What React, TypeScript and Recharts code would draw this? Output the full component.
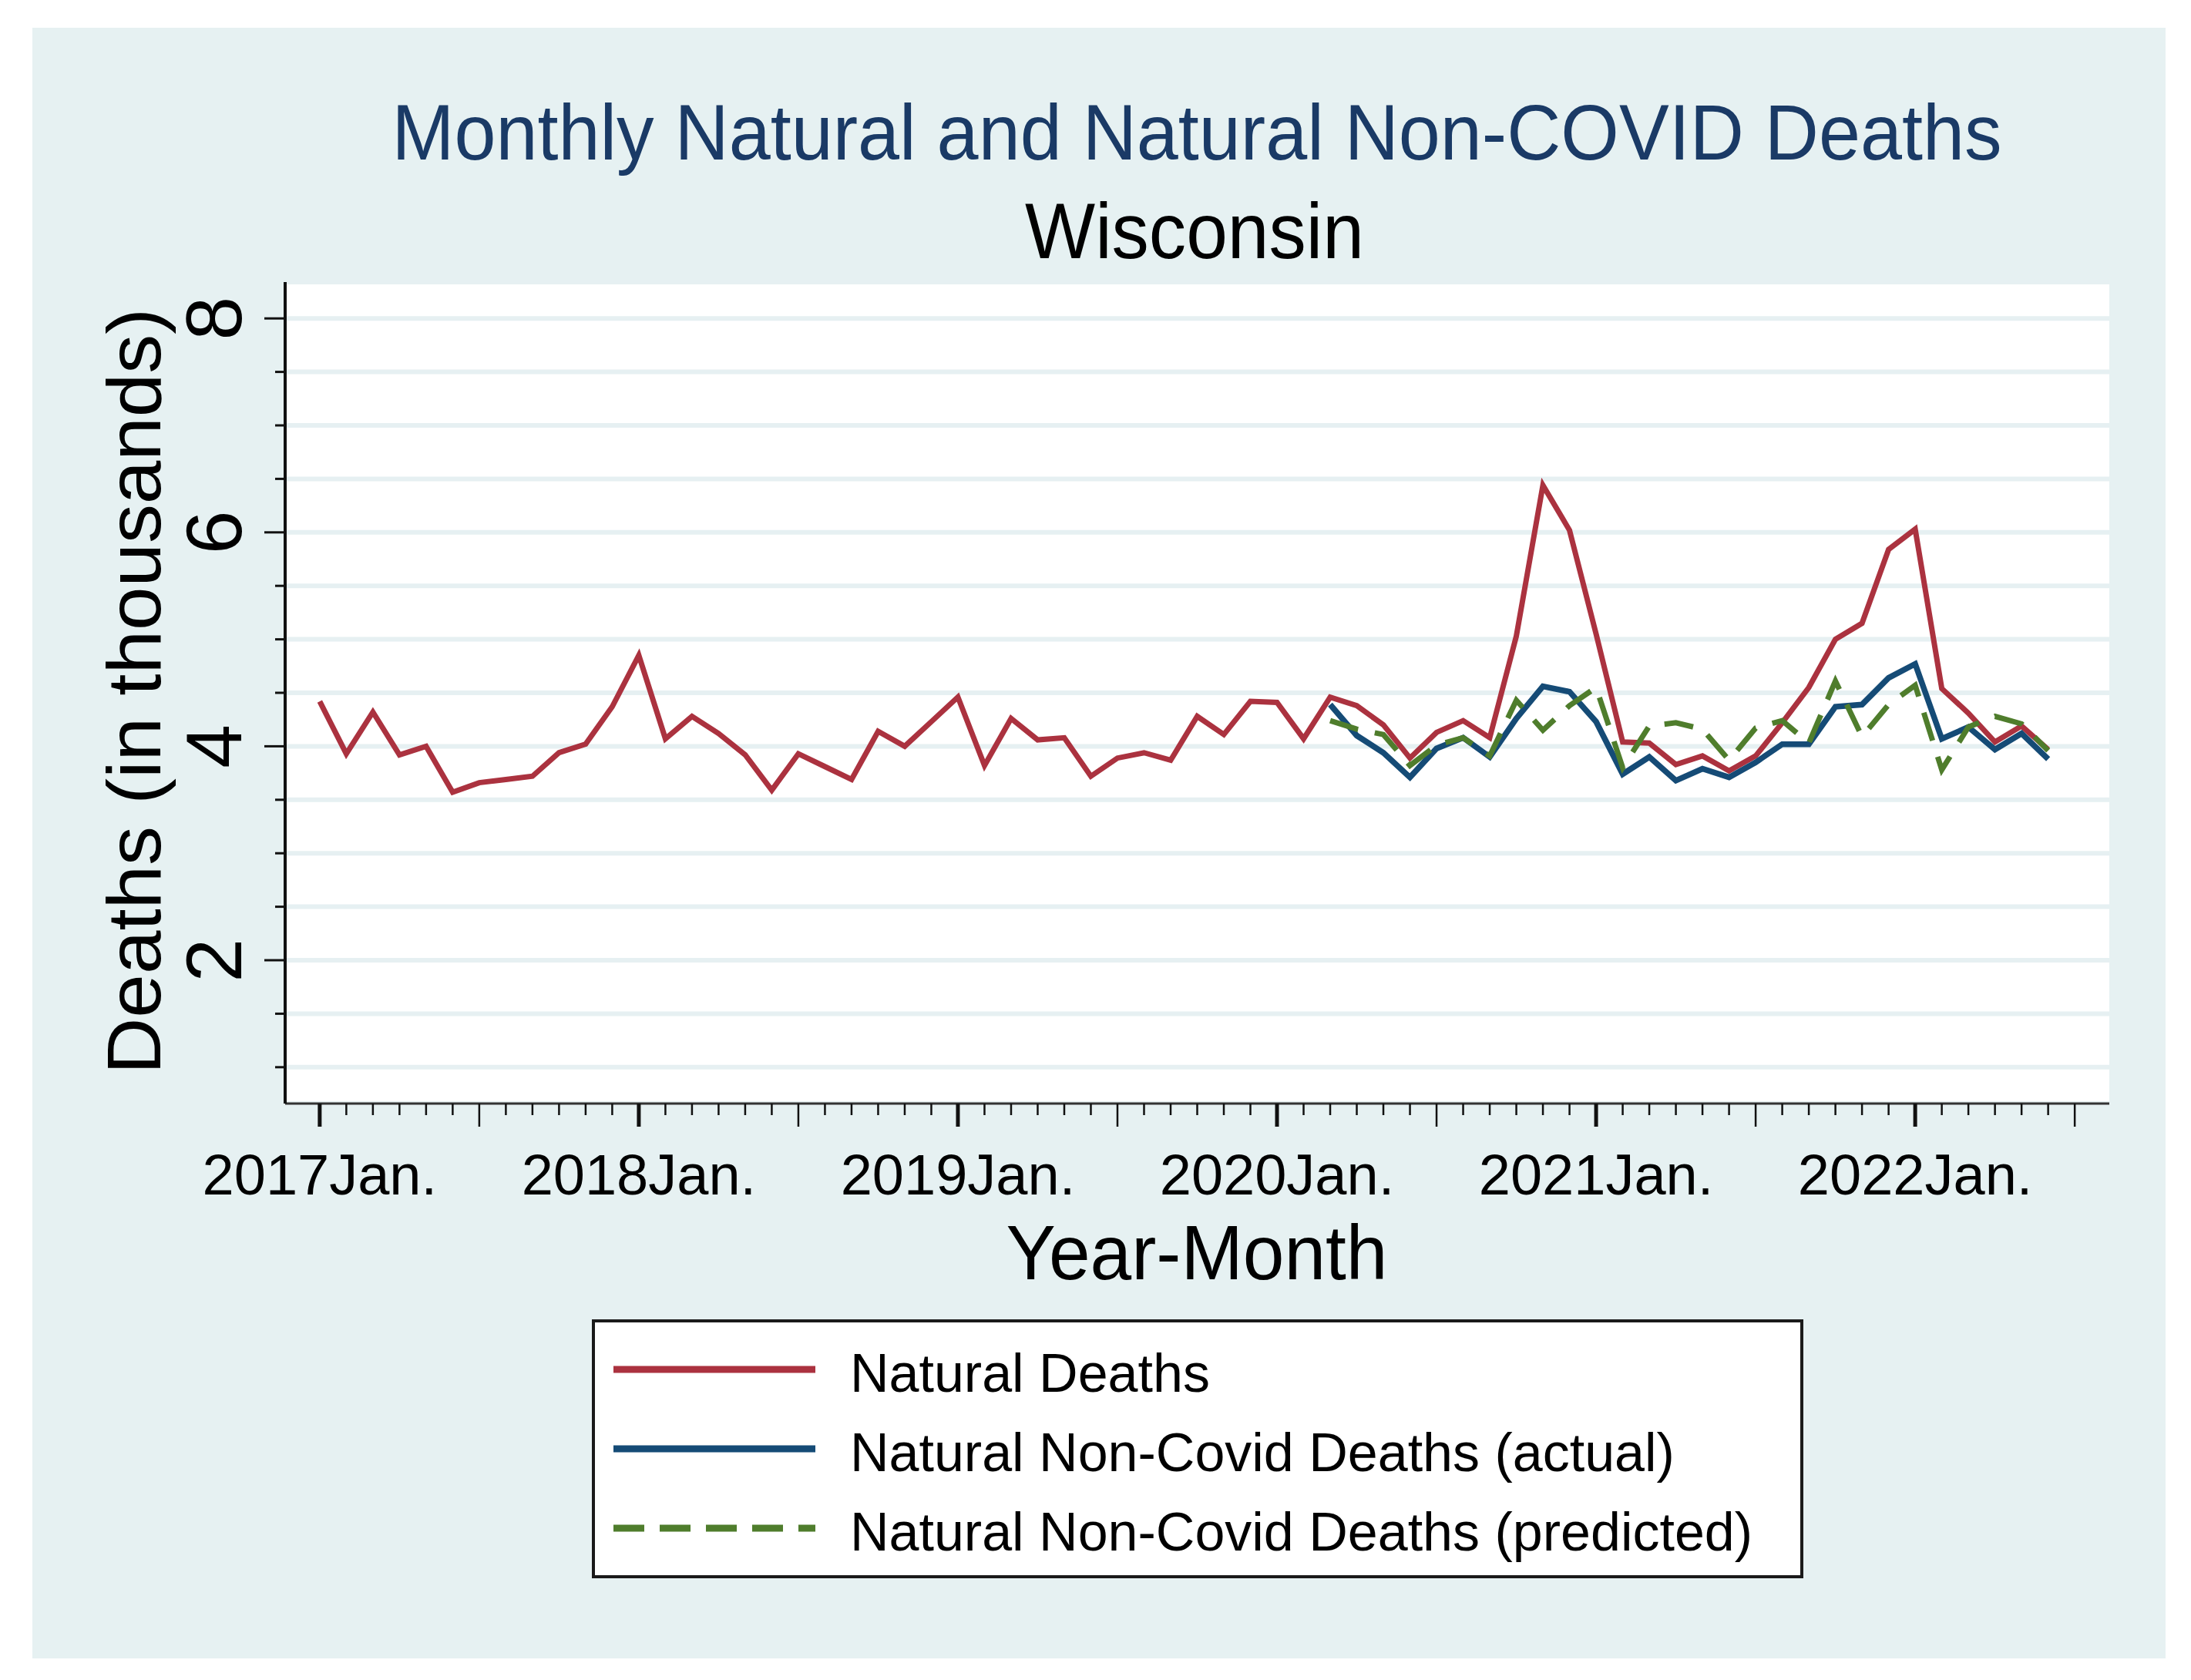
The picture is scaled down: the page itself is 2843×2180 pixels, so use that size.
import React from "react";
import { LineChart, Line, XAxis, YAxis, CartesianGrid, Legend } from "recharts";

// deaths in thousands, one value per month starting 2017 Jan.
const naturalDeaths = [
  4.42, 3.93, 4.32, 3.92, 4.0, 3.57, 3.66, 3.69, 3.72, 3.94, 4.02, 4.37,
  4.85, 4.07, 4.28, 4.12, 3.92, 3.59, 3.93, 3.81, 3.69, 4.14, 4.0, 4.23,
  4.46, 3.82, 4.26, 4.06, 4.08, 3.72, 3.89, 3.94, 3.87, 4.28, 4.11, 4.42,
  4.41, 4.07, 4.46, 4.38, 4.2, 3.89, 4.13, 4.24, 4.08, 5.03, 6.44, 6.02,
  5.05, 4.04, 4.03, 3.83, 3.91, 3.77, 3.91, 4.22, 4.55, 5.0, 5.15, 5.84,
  6.03, 4.54, 4.31, 4.04, 4.19, 3.97
];

// these two start in 2020 Mar.
const predictionStart = 38;
const nonCovidActual = [
  4.39, 4.1, 3.94, 3.71, 3.98, 4.08, 3.9, 4.26, 4.56, 4.51, 4.23, 3.74,
  3.9, 3.68, 3.79, 3.71, 3.85, 4.02, 4.02, 4.37, 4.39, 4.64, 4.77, 4.07,
  4.18, 3.97, 4.12, 3.88
];
const nonCovidPredicted = [
  4.24, 4.16, 4.11, 3.82, 4.01, 4.08, 3.91, 4.43, 4.15, 4.38, 4.55, 3.8,
  4.19, 4.22, 4.16, 3.87, 4.17, 4.24, 4.03, 4.61, 4.09, 4.39, 4.57, 3.78,
  4.18, 4.28, 4.21, 3.96
];

const yearLabels = ["2017Jan.", "2018Jan.", "2019Jan.", "2020Jan.", "2021Jan.", "2022Jan."];
const yLabelTicks = [2, 4, 6, 8];

const FONT = "'Liberation Sans', Arial, Helvetica, sans-serif";

const series = [
  { key: "natural", name: "Natural Deaths", color: "#ab323f", width: 7, dash: undefined },
  { key: "actual", name: "Natural Non-Covid Deaths (actual)", color: "#154b76", width: 7.5, dash: undefined },
  { key: "predicted", name: "Natural Non-Covid Deaths (predicted)", color: "#4f7d2c", width: 7, dash: "38 22" }
];

const data = naturalDeaths.map((v, i) => ({
  month: i,
  natural: v,
  actual: i >= predictionStart ? nonCovidActual[i - predictionStart] : null,
  predicted: i >= predictionStart ? nonCovidPredicted[i - predictionStart] : null
}));

const monthTicks: number[] = [];
for (let m = 0; m <= 66; m++) monthTicks.push(m);
const yTicks: number[] = [];
for (let t = 1; t <= 8; t += 0.5) yTicks.push(t);

const XTick = ({ x, y, payload }: any) => {
  const m = payload.value;
  const jan = m % 12 === 0;
  const long = jan || m % 12 === 6;
  return (
    <g>
      <line x1={x} x2={x} y1={y} y2={y + (long ? 30 : 15)} stroke="#111" strokeWidth={jan ? 5 : 2.5} />
      {jan && (
        <text x={x} y={y + 118} textAnchor="middle" fontSize={74} fontFamily={FONT} fill="#000">
          {yearLabels[m / 12]}
        </text>
      )}
    </g>
  );
};

const YTick = ({ x, y, payload }: any) => {
  const v = payload.value;
  const major = yLabelTicks.includes(v);
  return (
    <g>
      <line x1={x - (major ? 27 : 13)} x2={x} y1={y} y2={y} stroke="#111" strokeWidth={3} />
      {major && (
        <text
          x={x - 57}
          y={y}
          transform={`rotate(-90, ${x - 57}, ${y})`}
          textAnchor="middle"
          fontSize={102}
          fontFamily={FONT}
          fill="#000"
        >
          {v}
        </text>
      )}
    </g>
  );
};

const LegendBox = () => (
  <svg width={1572} height={336}>
    <rect x={2} y={2} width={1568} height={332} fill="#fff" stroke="#1a1a1a" strokeWidth={4} />
    {series.map((s, i) => (
      <g key={s.key}>
        <line
          x1={28}
          x2={290}
          y1={65 + i * 103}
          y2={65 + i * 103}
          stroke={s.color}
          strokeWidth={9}
          strokeDasharray={s.dash ? "40 20" : undefined}
        />
        <text x={335} y={94 + i * 103} fontSize={70} fontFamily={FONT} fill="#000">
          {s.name}
        </text>
      </g>
    ))}
  </svg>
);

export default function App() {
  return (
    <div style={{ position: "absolute", left: 0, top: 0, width: 2843, height: 2180, background: "#fff" }}>
      <svg width={2843} height={2180} style={{ position: "absolute", left: 0, top: 0 }}>
        <rect x={42} y={36} width={2768} height={2116} fill="#e6f1f2" />
        <text x={1553} y={207} textAnchor="middle" fontSize={102} fontFamily={FONT} fill="#1a3a66"
          textLength={2089} lengthAdjust="spacingAndGlyphs">
          Monthly Natural and Natural Non-COVID Deaths
        </text>
        <text x={1550} y={335} textAnchor="middle" fontSize={102} fontFamily={FONT} fill="#000"
          textLength={440} lengthAdjust="spacingAndGlyphs">
          Wisconsin
        </text>
        <text x={1553} y={1660} textAnchor="middle" fontSize={100} fontFamily={FONT} fill="#000"
          textLength={495} lengthAdjust="spacingAndGlyphs">
          Year-Month
        </text>
        <text x={208} y={897} transform="rotate(-90, 208, 897)" textAnchor="middle" fontSize={98}
          fontFamily={FONT} fill="#000" textLength={994} lengthAdjust="spacingAndGlyphs">
          Deaths (in thousands)
        </text>
      </svg>
      <div style={{ position: "absolute", left: 0, top: 0 }}>
        <LineChart width={2843} height={2180} data={data} margin={{ top: 366, right: 106, bottom: 0, left: 0 }}>
          <CartesianGrid vertical={false} fill="#fff" stroke="#e6f0f2" strokeWidth={6} />
          <XAxis
            dataKey="month"
            type="number"
            domain={[-1.3, 67.3]}
            ticks={monthTicks}
            interval={0}
            height={748}
            tickSize={0}
            tickMargin={0}
            tickLine={false}
            tick={<XTick />}
            axisLine={{ stroke: "#333", strokeWidth: 3 }}
            allowDataOverflow
          />
          <YAxis
            type="number"
            domain={[0.66, 8.34]}
            ticks={yTicks}
            interval={0}
            width={370}
            tickSize={0}
            tickMargin={0}
            tickLine={false}
            tick={<YTick />}
            axisLine={{ stroke: "#111", strokeWidth: 4 }}
            allowDataOverflow
          />
          <Legend
            layout="vertical"
            align="center"
            verticalAlign="middle"
            content={<LegendBox />}
            wrapperStyle={{ left: 768, top: 1712, width: 1572, height: 336 }}
          />
          {series.map((s) => (
            <Line
              key={s.key}
              type="linear"
              dataKey={s.key}
              name={s.name}
              stroke={s.color}
              strokeWidth={s.width}
              strokeDasharray={s.dash}
              strokeLinejoin="miter"
              dot={false}
              activeDot={false}
              connectNulls={false}
              isAnimationActive={false}
            />
          ))}
        </LineChart>
      </div>
    </div>
  );
}
